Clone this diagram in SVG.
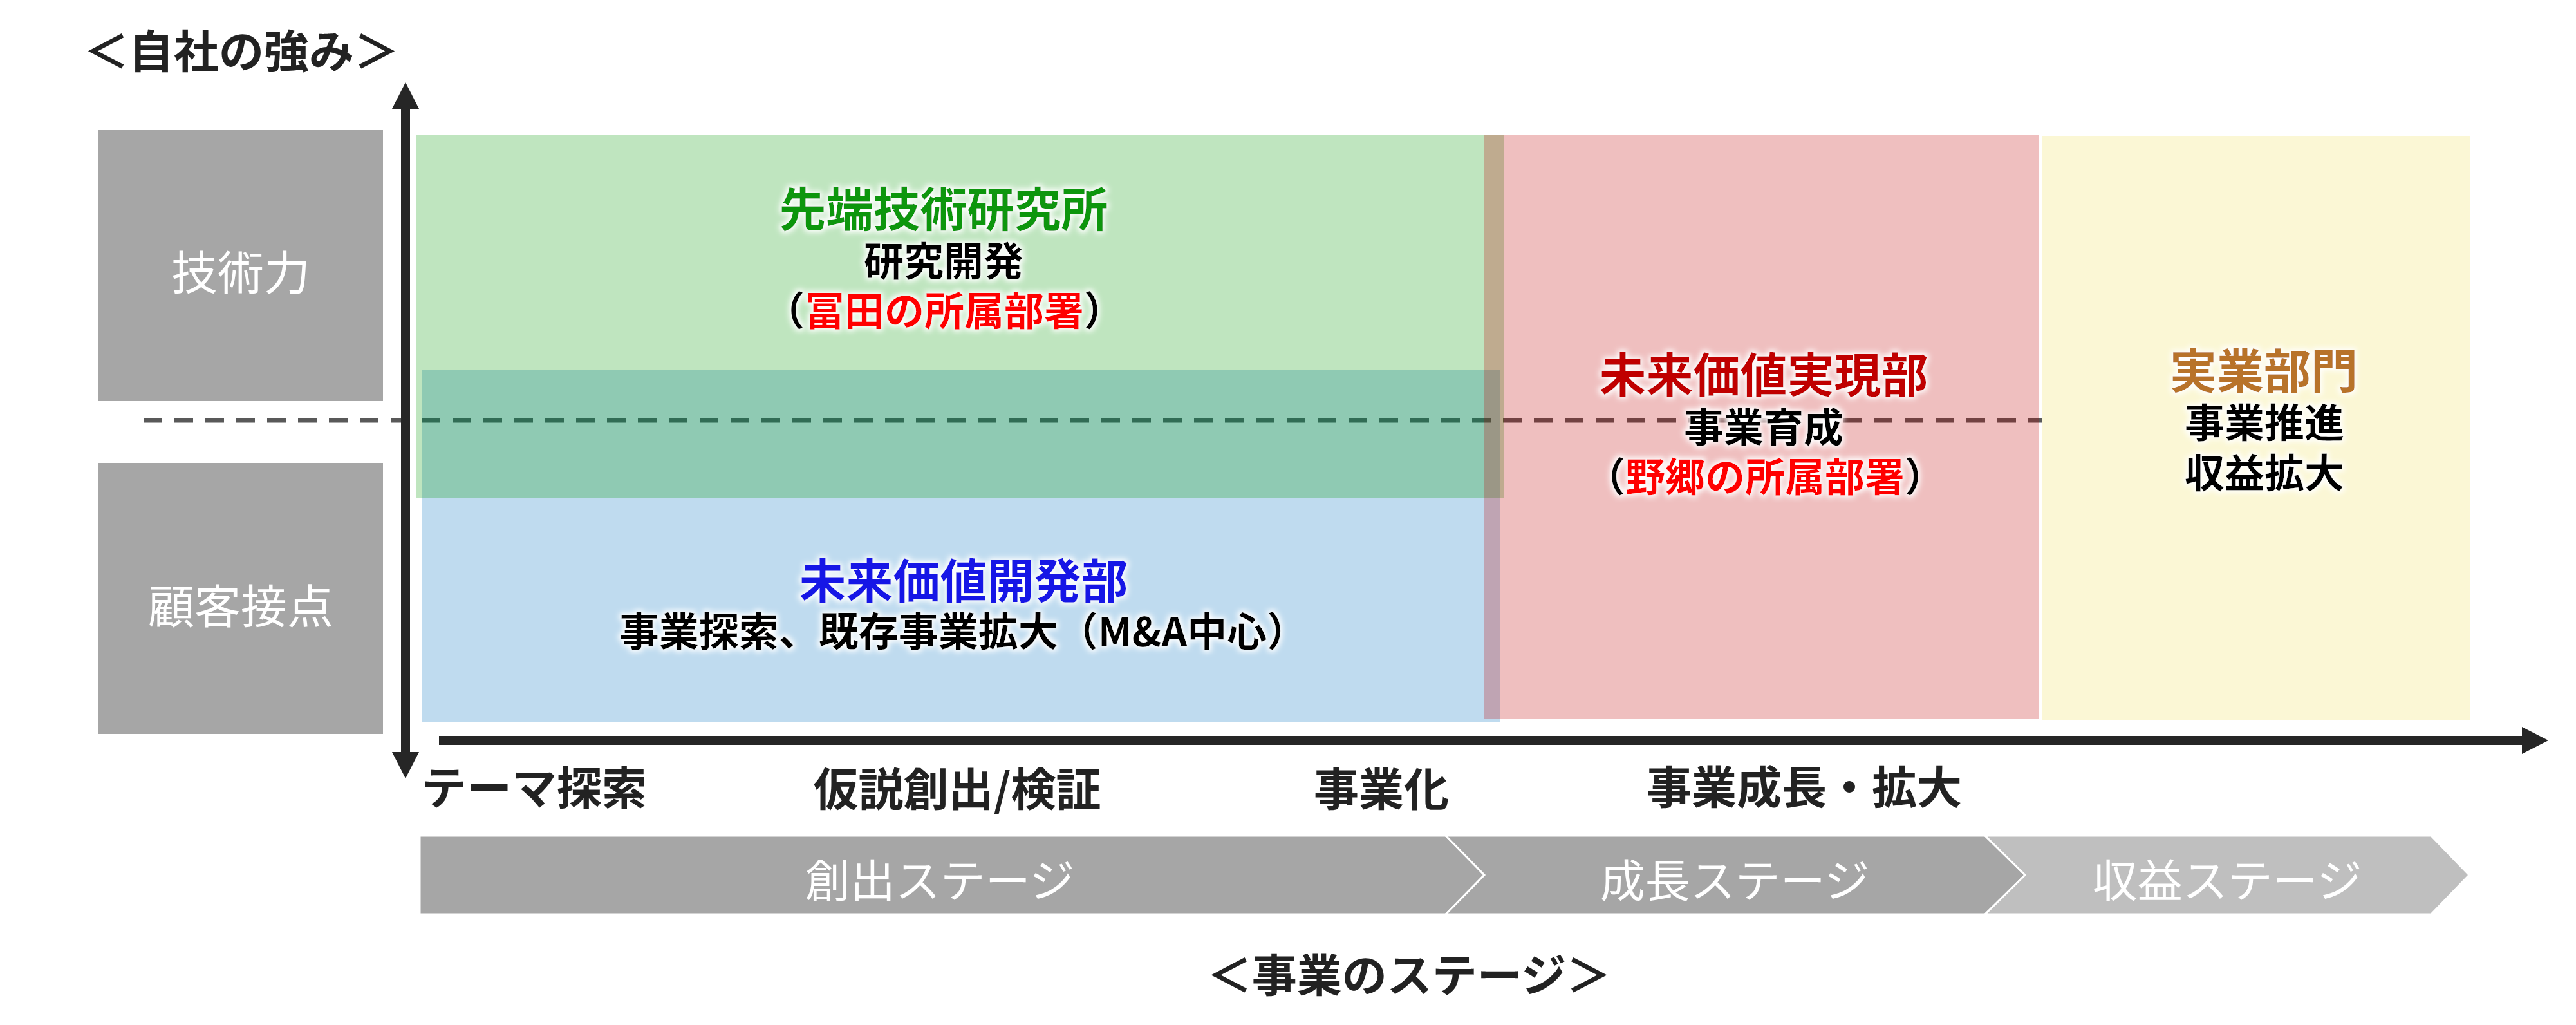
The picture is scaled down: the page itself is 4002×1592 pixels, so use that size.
<svg xmlns="http://www.w3.org/2000/svg" width="4002" height="1592" viewBox="0 0 4002 1592">
<style>
  text { font-family: "Noto Sans CJK JP", "Noto Sans CJK SC", sans-serif; dominant-baseline: central; text-anchor: middle; }
  .ax { fill: #222; font-size: 70px; font-weight: 700; }
  .wt { fill: #fff; font-size: 72px; font-weight: 400; }
  .st { fill: #fff; font-size: 70px; font-weight: 400; }
  .hd { font-size: 73px; font-weight: 700; }
  .sb { fill: #000; font-size: 62px; font-weight: 700; }
  .gbox { fill: #A6A6A6; }
  .axis { stroke: #262626; stroke-width: 14; fill: none; }
  .head { fill: #262626; }
</style>
<defs>
  <filter id="glow" x="-10%" y="-20%" width="120%" height="140%">
    <feMorphology in="SourceAlpha" operator="dilate" radius="3" result="d"/>
    <feGaussianBlur in="d" stdDeviation="4" result="b"/>
    <feFlood flood-color="#ffffff"/>
    <feComposite in2="b" operator="in" result="g"/>
    <feMerge><feMergeNode in="g"/><feMergeNode in="SourceGraphic"/></feMerge>
  </filter>
</defs>
<rect width="4002" height="1592" fill="#fff"/>

<!-- titles -->
<text id="title-strength" class="ax" x="375" y="75">＜自社の強み＞</text>
<text id="title-stage" class="ax" x="2189" y="1510">＜事業のステージ＞</text>

<!-- left category boxes -->
<g id="node-tech">
  <rect class="gbox" x="153" y="202" width="442" height="421"/>
  <text class="wt" x="374" y="418">技術力</text>
</g>
<g id="node-customer">
  <rect class="gbox" x="153" y="719" width="442" height="421"/>
  <text class="wt" x="374" y="936">顧客接点</text>
</g>

<!-- dashed divider (under the translucent boxes) -->
<g id="divider">
  <line x1="223" y1="653" x2="3173" y2="653" stroke="#595959" stroke-width="7" stroke-dasharray="29 19"/>
</g>

<!-- department regions -->
<g id="node-blue">
  <rect x="655" y="575" width="1676" height="546" fill="#0070C0" fill-opacity="0.25"/>
</g>
<g id="node-green">
  <rect x="646" y="210" width="1690" height="564" fill="#009600" fill-opacity="0.25"/>
</g>
<g id="node-red">
  <rect x="2306" y="209" width="862" height="908" fill="#C00000" fill-opacity="0.25"/>
</g>
<g id="node-yellow">
  <rect x="3173" y="212" width="665" height="906" fill="#FBF7D5"/>
</g>

<!-- region texts -->
<g id="label-green" filter="url(#glow)">
  <text><tspan class="hd" x="1466" y="320" fill="#0A960A">先端技術研究所</tspan><tspan class="sb" x="1466" y="402">研究開発</tspan><tspan class="sb" x="1467" y="479">（<tspan fill="#FF0000">冨田の所属部署</tspan>）</tspan></text>
</g>
<g id="label-blue" filter="url(#glow)">
  <text><tspan class="hd" x="1497" y="897" fill="#1414E6">未来価値開発部</tspan><tspan class="sb" x="1496" y="977">事業探索、既存事業拡大（M&amp;A中心）</tspan></text>
</g>
<g id="label-red" filter="url(#glow)">
  <text><tspan class="hd" x="2740" y="577" fill="#C00000">未来価値実現部</tspan><tspan class="sb" x="2740" y="660">事業育成</tspan><tspan class="sb" x="2742" y="737">（<tspan fill="#FF0000">野郷の所属部署</tspan>）</tspan></text>
</g>
<g id="label-yellow" filter="url(#glow)">
  <text><tspan class="hd" x="3517" y="571" fill="#B8732C">実業部門</tspan><tspan class="sb" x="3518" y="653">事業推進</tspan><tspan class="sb" x="3518" y="731">収益拡大</tspan></text>
</g>

<!-- axes -->
<g id="connectors">
  <line class="axis" x1="630" y1="165" x2="630" y2="1172"/>
  <polygon class="head" points="630,128 609,169 651,169"/>
  <polygon class="head" points="630,1209 609,1168 651,1168"/>
  <line class="axis" x1="682" y1="1150" x2="3922" y2="1150"/>
  <polygon class="head" points="3959,1150 3918,1129 3918,1171"/>
</g>

<!-- axis labels -->
<g id="axis-labels">
  <text class="ax" x="830" y="1219">テーマ探索</text>
  <text class="ax" x="1487" y="1221">仮説創出/検証</text>
  <text class="ax" x="2146" y="1221">事業化</text>
  <text class="ax" x="2803" y="1218">事業成長・拡大</text>
</g>

<!-- stage chevrons -->
<g id="node-stage-create">
  <polygon points="652,1298 2246,1298 2306,1359 2246,1420 652,1420" fill="#A6A6A6" stroke="#fff" stroke-width="3"/>
  <text class="st" x="1460" y="1363">創出ステージ</text>
</g>
<g id="node-stage-grow">
  <polygon points="2246,1298 3084,1298 3146,1359 3084,1420 2246,1420 2306,1359" fill="#A6A6A6" stroke="#fff" stroke-width="3"/>
  <text class="st" x="2695" y="1363">成長ステージ</text>
</g>
<g id="node-stage-profit">
  <polygon points="3084,1298 3777,1298 3836,1359 3777,1420 3084,1420 3146,1359" fill="#BFBFBF" stroke="#fff" stroke-width="3"/>
  <text class="st" x="3460" y="1363">収益ステージ</text>
</g>
</svg>
